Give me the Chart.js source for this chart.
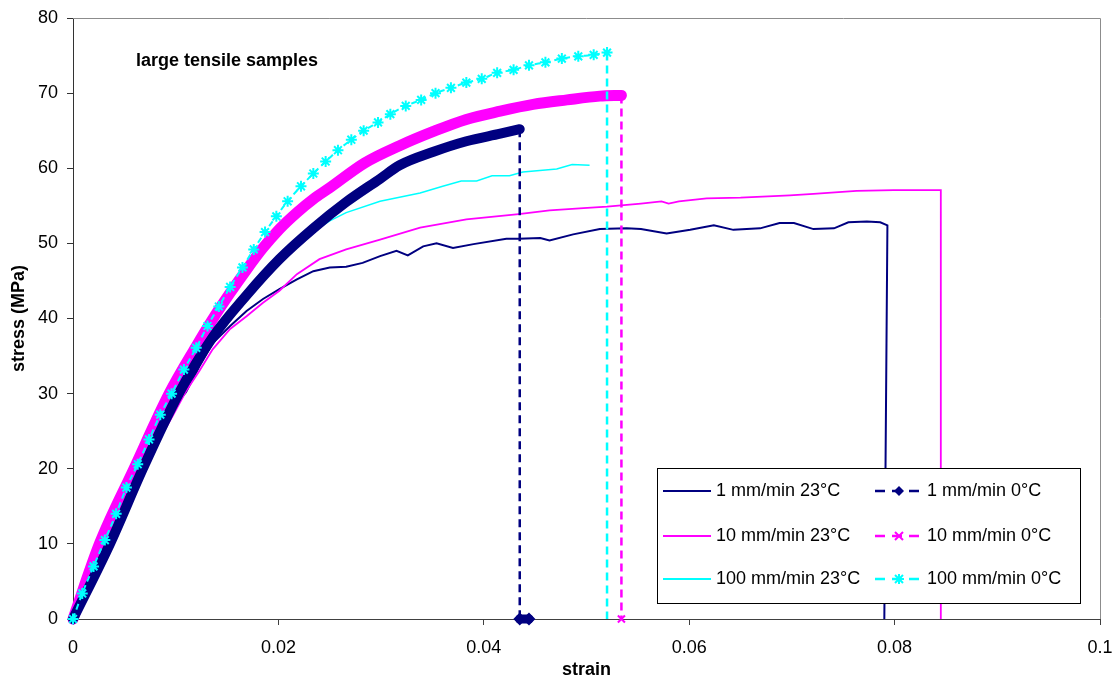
<!DOCTYPE html>
<html>
<head>
<meta charset="utf-8">
<title>large tensile samples</title>
<script src="https://cdn.jsdelivr.net/npm/chart.js@4.4.1/dist/chart.umd.min.js"></script>
<style>
  html, body { margin: 0; padding: 0; background: #fff; }
  #wrap { width: 1117px; height: 681px; }
</style>
</head>
<body>
<div id="wrap"><canvas id="grafica"></canvas></div>
<script>
// Valores (strain / stress en MPa)
const nombres = ["1 mm/min 23°C", "1 mm/min 0°C", "10 mm/min 23°C", "10 mm/min 0°C", "100 mm/min 23°C", "100 mm/min 0°C"];
const colores = ["#000080", "#000080", "#ff00ff", "#ff00ff", "#00ffff", "#00ffff"];

const xTicks = [0, 0.02, 0.04, 0.06, 0.08, 0.1];
const yTicks = [0, 10, 20, 30, 40, 50, 60, 70, 80];

// 1 mm/min 23°C
const strain1_23 = [0, 0.0036, 0.0068, 0.0094, 0.0110, 0.0123, 0.0136, 0.0153, 0.0169, 0.0185, 0.0201, 0.0218, 0.0234, 0.0250, 0.0266, 0.0282, 0.0299, 0.0315, 0.0326, 0.0341, 0.0354, 0.0370, 0.0390, 0.0422, 0.0434, 0.0455, 0.0464, 0.0487, 0.0513, 0.0539, 0.0553, 0.0578, 0.0601, 0.0624, 0.0643, 0.0669, 0.0688, 0.0702, 0.0721, 0.0741, 0.0755, 0.0773, 0.0786, 0.0793, 0.0790];
const stress1_23 = [0, 10, 20, 27.5, 30.2, 33.6, 36.7, 39.0, 41.0, 42.6, 43.9, 45.2, 46.3, 46.8, 46.9, 47.4, 48.3, 49.0, 48.4, 49.6, 50.0, 49.4, 49.9, 50.6, 50.6, 50.7, 50.4, 51.2, 51.9, 52.0, 51.9, 51.3, 51.8, 52.4, 51.8, 52.0, 52.7, 52.7, 51.9, 52.0, 52.8, 52.9, 52.8, 52.4, 0];

// 1 mm/min 0°C
const strain1_0 = [0, 0.0036, 0.0068, 0.0103, 0.0136, 0.0169, 0.0201, 0.0234, 0.0266, 0.0299, 0.0318, 0.0351, 0.0383, 0.0416, 0.0435, 0.0435, 0.0444];
const stress1_0 = [0, 10, 20, 30, 37.5, 43.1, 47.9, 52.0, 55.5, 58.6, 60.4, 62.2, 63.6, 64.6, 65.2, 0, 0];

// 10 mm/min 23°C
const strain10_23 = [0, 0.0036, 0.0068, 0.0097, 0.0110, 0.0123, 0.0136, 0.0153, 0.0169, 0.0185, 0.0201, 0.0218, 0.0240, 0.0266, 0.0299, 0.0338, 0.0383, 0.0434, 0.0464, 0.0497, 0.0520, 0.0553, 0.0573, 0.0580, 0.0590, 0.0617, 0.0650, 0.0698, 0.0721, 0.0763, 0.0799, 0.0845, 0.0845];
const stress10_23 = [0, 10, 20, 27.0, 30.3, 33.0, 35.9, 38.6, 40.3, 42.1, 43.7, 45.9, 47.9, 49.2, 50.5, 52.1, 53.2, 53.9, 54.4, 54.7, 54.9, 55.3, 55.6, 55.3, 55.6, 56.0, 56.1, 56.4, 56.6, 57.0, 57.1, 57.1, 0];

// 10 mm/min 0°C
const strain10_0 = [0, 0.0026, 0.0059, 0.0094, 0.0120, 0.0136, 0.0153, 0.0169, 0.0185, 0.0201, 0.0218, 0.0234, 0.0250, 0.0284, 0.0318, 0.0351, 0.0383, 0.0416, 0.0448, 0.0481, 0.0513, 0.0534, 0.0534];
const stress10_0 = [0, 10.1, 19.9, 30.1, 36.3, 39.9, 43.4, 46.5, 49.4, 51.9, 54.1, 55.9, 57.4, 60.7, 63.0, 64.9, 66.5, 67.6, 68.5, 69.1, 69.6, 69.7, 0];

// 100 mm/min 23°C
const strain100_23 = [0, 0.0036, 0.0068, 0.0103, 0.0136, 0.0169, 0.0201, 0.0218, 0.0234, 0.0250, 0.0266, 0.0299, 0.0338, 0.0360, 0.0378, 0.0393, 0.0408, 0.0425, 0.0438, 0.0471, 0.0486, 0.0503];
const stress100_23 = [0, 10, 20, 30, 37.5, 43.1, 48.1, 50.1, 51.6, 53.0, 54.1, 55.6, 56.7, 57.6, 58.3, 58.3, 59.0, 59.0, 59.5, 59.9, 60.5, 60.4];

// 100 mm/min 0°C
const strain100_0 = [0, 0.0009, 0.0020, 0.0031, 0.0042, 0.0052, 0.0063, 0.0074, 0.0085, 0.0096, 0.0108, 0.0120, 0.0131, 0.0142, 0.0153, 0.0165, 0.0176, 0.0187, 0.0198, 0.0209, 0.0222, 0.0234, 0.0246, 0.0258, 0.0271, 0.0283, 0.0297, 0.0309, 0.0324, 0.0339, 0.0353, 0.0368, 0.0383, 0.0398, 0.0413, 0.0429, 0.0444, 0.0460, 0.0476, 0.0492, 0.0507, 0.0520, 0.0520];
const stress100_0 = [0, 3.4, 7.0, 10.5, 14.0, 17.5, 20.6, 23.9, 27.2, 30.0, 33.2, 36.1, 39.0, 41.6, 44.2, 46.8, 49.2, 51.5, 53.6, 55.6, 57.6, 59.3, 60.9, 62.4, 63.8, 65.0, 66.1, 67.2, 68.3, 69.1, 70.0, 70.7, 71.4, 71.9, 72.7, 73.1, 73.7, 74.1, 74.6, 74.9, 75.1, 75.4, 0];

const FUENTE = "'Liberation Sans', Arial, sans-serif";

function puntos(xs, ys) {
  return xs.map((x, i) => ({ x: x, y: ys[i] }));
}

function serieFina(xs, ys, color, ancho, orden) {
  return {
    data: puntos(xs, ys),
    borderColor: color,
    borderWidth: ancho,
    pointRadius: 0,
    showLine: true,
    order: orden
  };
}

// Serie a 0°C: curva (gruesa o con marcas), caída discontinua a cero y marcas finales en el eje
function serieFrio(xs, ys, color, opciones, orden) {
  const pts = puntos(xs, ys);
  const k = ys.findIndex((y, i) => i > 0 && y === 0);
  const curva = pts.slice(0, k);
  const caida = pts.slice(k - 1, k + 1);
  const cola = pts.slice(k);
  const lista = [];
  lista.push(Object.assign({
    data: curva,
    borderColor: color,
    backgroundColor: color,
    showLine: true,
    clip: 12,
    borderJoinStyle: "round",
    borderCapStyle: "round",
    cubicInterpolationMode: "monotone",
    pointRadius: 0,
    order: orden
  }, opciones.curva));
  lista.push({
    data: caida,
    borderColor: color,
    borderWidth: 2.5,
    borderDash: [8, 5],
    showLine: true,
    pointRadius: 0,
    order: orden
  });
  if (opciones.cola) {
    lista.push(Object.assign({
      data: cola,
      borderColor: color,
      backgroundColor: color,
      showLine: true,
      clip: 12,
      pointBorderColor: color,
      pointBackgroundColor: color,
      pointBorderWidth: 2,
      order: orden - 0.5
    }, opciones.cola));
  }
  return lista;
}

const datasets = [
  serieFina(strain1_23, stress1_23, colores[0], 2, 9),
  serieFina(strain10_23, stress10_23, colores[2], 1.8, 8),
  serieFina(strain100_23, stress100_23, colores[4], 1.5, 7),
  ...serieFrio(strain10_0, stress10_0, colores[3], {
    curva: { borderWidth: 11 },
    cola: { borderWidth: 0, pointStyle: "crossRot", pointRadius: 5 }
  }, 5),
  ...serieFrio(strain1_0, stress1_0, colores[1], {
    curva: { borderWidth: 10 },
    cola: { borderWidth: 9, borderCapStyle: "round", pointStyle: "rectRot", pointRadius: 5 }
  }, 4),
  ...serieFrio(strain100_0, stress100_0, colores[5], {
    curva: { borderWidth: 2, borderDash: [6, 4], borderCapStyle: "butt", pointStyle: "star", pointRadius: 5.5, pointBorderWidth: 2, pointBorderColor: colores[5] }
  }, 2)
];

// marcas de la leyenda
function dibujarMarca(ctx, tipo, x, y, color) {
  ctx.save();
  ctx.strokeStyle = color;
  ctx.fillStyle = color;
  ctx.lineWidth = 2;
  ctx.setLineDash([]);
  ctx.beginPath();
  if (tipo === "rectRot") {
    ctx.moveTo(x, y - 5); ctx.lineTo(x + 5, y); ctx.lineTo(x, y + 5); ctx.lineTo(x - 5, y);
    ctx.closePath(); ctx.fill();
  } else if (tipo === "crossRot") {
    ctx.moveTo(x - 4, y - 4); ctx.lineTo(x + 4, y + 4);
    ctx.moveTo(x + 4, y - 4); ctx.lineTo(x - 4, y + 4);
    ctx.stroke();
  } else {
    ctx.moveTo(x - 4, y - 4); ctx.lineTo(x + 4, y + 4);
    ctx.moveTo(x + 4, y - 4); ctx.lineTo(x - 4, y + 4);
    ctx.moveTo(x - 5, y); ctx.lineTo(x + 5, y);
    ctx.moveTo(x, y - 5); ctx.lineTo(x, y + 5);
    ctx.stroke();
  }
  ctx.restore();
}

const extras = {
  id: "extras",
  afterDraw(chart) {
    const ctx = chart.ctx;
    const area = chart.chartArea;
    ctx.save();

    // marco gris superior y derecho
    ctx.strokeStyle = "#8c8c8c";
    ctx.lineWidth = 1;
    ctx.beginPath();
    ctx.moveTo(area.left, area.top + 0.5);
    ctx.lineTo(area.right + 0.5, area.top + 0.5);
    ctx.lineTo(area.right + 0.5, area.bottom);
    ctx.stroke();

    // título interior
    ctx.fillStyle = "#000";
    ctx.font = "bold 18px " + FUENTE;
    ctx.textBaseline = "alphabetic";
    ctx.fillText("large tensile samples", 136, 66);

    // leyenda
    ctx.fillStyle = "#fff";
    ctx.fillRect(657, 468, 424, 135);
    ctx.strokeStyle = "#000";
    ctx.strokeRect(657.5, 468.5, 423, 135);

    const filas = [491, 536, 579];
    const marcas = ["rectRot", "crossRot", "star"];
    ctx.font = "18px " + FUENTE;
    ctx.textBaseline = "middle";
    for (let i = 0; i < 3; i++) {
      const y = filas[i];
      // columna 23°C
      ctx.strokeStyle = colores[i * 2];
      ctx.lineWidth = 2;
      ctx.setLineDash([]);
      ctx.beginPath();
      ctx.moveTo(663, y); ctx.lineTo(711, y);
      ctx.stroke();
      ctx.fillStyle = "#000";
      ctx.fillText(nombres[i * 2], 716, y);
      // columna 0°C
      ctx.strokeStyle = colores[i * 2 + 1];
      ctx.lineWidth = 2.5;
      ctx.setLineDash([10, 7]);
      ctx.beginPath();
      ctx.moveTo(875, y); ctx.lineTo(919, y);
      ctx.stroke();
      dibujarMarca(ctx, marcas[i], 899, y, colores[i * 2 + 1]);
      ctx.fillStyle = "#000";
      ctx.fillText(nombres[i * 2 + 1], 927, y);
    }
    ctx.restore();
  }
};

Chart.defaults.font.family = FUENTE;
Chart.defaults.font.size = 18;
Chart.defaults.color = "#000";

const chart = new Chart(document.getElementById("grafica").getContext("2d"), {
  type: "scatter",
  data: { datasets: datasets },
  options: {
    responsive: true,
    maintainAspectRatio: false,
    animation: false,
    events: [],
    layout: { padding: { top: 18, right: 17, left: 0, bottom: 0 } },
    plugins: {
      legend: { display: false },
      tooltip: { enabled: false }
    },
    scales: {
      x: {
        type: "linear",
        min: xTicks[0],
        max: xTicks[xTicks.length - 1],
        afterFit: s => { s.height = 62; s.paddingLeft = 0; s.paddingRight = 0; },
        afterBuildTicks: s => { s.ticks = xTicks.map(v => ({ value: v })); },
        ticks: {
          padding: 12,
          maxRotation: 0,
          autoSkip: false,
          callback: v => String(+Number(v).toFixed(2))
        },
        grid: { drawOnChartArea: false, drawTicks: true, tickLength: 6, color: "#404040" },
        border: { color: "#404040", width: 1 },
        title: { display: true, text: "strain", font: { size: 18, weight: "bold" }, padding: { top: 0, bottom: 0 } }
      },
      y: {
        min: yTicks[0],
        max: yTicks[yTicks.length - 1],
        afterFit: s => { s.width = 73; s.paddingTop = 0; s.paddingBottom = 0; },
        afterBuildTicks: s => { s.ticks = yTicks.map(v => ({ value: v })); },
        ticks: { padding: 9, autoSkip: false },
        grid: { drawOnChartArea: false, drawTicks: true, tickLength: 6, color: "#333" },
        border: { color: "#333", width: 1 },
        title: { display: true, text: "stress (MPa)", font: { size: 18, weight: "bold" }, padding: { top: 8, bottom: 0 } }
      }
    }
  },
  plugins: [extras]
});
</script>
</body>
</html>
